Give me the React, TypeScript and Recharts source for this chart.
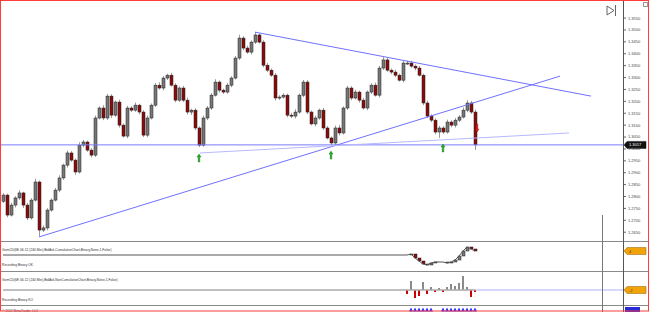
import React from 'react';
import { ComposedChart, Bar, Line, Scatter, XAxis, YAxis, ReferenceLine, Cell } from 'recharts';

// 6E 240 min closes, one per bar
const closes = [
  1.2806, 1.2722, 1.2764, 1.2794, 1.2815, 1.2764, 1.2710, 1.2785, 1.2861, 1.2659,
  1.2668, 1.2743, 1.2785, 1.2827, 1.2878, 1.2932, 1.2983, 1.2953, 1.2903, 1.3016,
  1.3029, 1.2995, 1.2974, 1.3130, 1.3172, 1.3130, 1.3222, 1.3142, 1.3197, 1.3100,
  1.3054, 1.3172, 1.3163, 1.3184, 1.3155, 1.3058, 1.3130, 1.3184, 1.3268, 1.3256,
  1.3298, 1.3310, 1.3268, 1.3205, 1.3256, 1.3205, 1.3155, 1.3163, 1.3088, 1.3016,
  1.3130, 1.3172, 1.3226, 1.3281, 1.3247, 1.3239, 1.3268, 1.3298, 1.3382, 1.3466,
  1.3424, 1.3407, 1.3449, 1.3479, 1.3449, 1.3352, 1.3331, 1.3310, 1.3214, 1.3218,
  1.3226, 1.3142, 1.3138, 1.3155, 1.3226, 1.3281, 1.3155, 1.3105, 1.3130, 1.3163,
  1.3088, 1.3046, 1.3025, 1.3088, 1.3067, 1.3172, 1.3256, 1.3214, 1.3239, 1.3205,
  1.3172, 1.3239, 1.3268, 1.3226, 1.3340, 1.3374, 1.3331, 1.3323, 1.3310, 1.3289,
  1.3361, 1.3361, 1.3348, 1.3340, 1.3310, 1.3193, 1.3138, 1.3121, 1.3071, 1.3088,
  1.3071, 1.3113, 1.3100, 1.3121, 1.3134, 1.3163, 1.3193, 1.3155, 1.3017,
];
const firstOpen = 1.2780;
// wick lengths in pips
const upperWicks = [
  8, 6, 10, 7, 12, 5, 9, 8, 14, 6,
  10, 8, 7, 9, 11, 6, 10, 8, 7, 12,
  9, 6, 8, 10, 7, 12, 9, 8, 6, 10,
  7, 9, 8, 11, 6, 8, 10, 7, 9, 12,
  8, 6, 10, 8, 7, 9, 11, 6, 8, 7,
  10, 8, 9, 12, 7, 6, 10, 8, 9, 14,
  8, 10, 7, 12, 6, 8, 10, 7, 9, 8,
  8, 6, 10, 12, 7, 9, 8, 6, 10, 7,
  9, 8, 6, 10, 12, 7, 9, 8, 10, 6,
  9, 7, 8, 11, 9, 12, 8, 7, 10, 6,
  9, 10, 8, 7, 9, 6, 10, 8, 7, 9,
  8, 10, 7, 9, 8, 11, 12, 8, 10,
];
const lowerWicks = [
  7, 9, 6, 10, 8, 12, 9, 7, 6, 27,
  8, 10, 7, 6, 9, 8, 10, 7, 12, 6,
  9, 7, 10, 8, 6, 9, 8, 12, 7, 10,
  6, 9, 8, 7, 10, 8, 9, 6, 8, 7,
  10, 8, 6, 9, 7, 8, 10, 12, 9, 8,
  7, 9, 8, 6, 10, 8, 7, 9, 6, 8,
  9, 7, 10, 8, 6, 9, 8, 7, 10, 8,
  6, 9, 8, 10, 7, 8, 9, 6, 10, 7,
  8, 6, 8, 9, 10, 7, 8, 9, 6, 10,
  7, 9, 8, 6, 10, 8, 7, 9, 8, 6,
  9, 8, 7, 10, 6, 9, 8, 9, 10, 25,
  8, 7, 9, 10, 8, 6, 9, 8, 21,
];
const priceTicks = [
  1.355, 1.35, 1.345, 1.34, 1.335, 1.33, 1.325, 1.32, 1.315, 1.31,
  1.305, 1.3, 1.295, 1.29, 1.285, 1.28, 1.275, 1.27, 1.265,
];

// drawing objects: [bar index, price]
const supportLine = [[9, 1.263], [139.25, 1.3306]];
const resistanceLine = [[63, 1.3491], [147, 1.3222]];
const channelLine = [[49.25, 1.2983], [141.5, 1.3067]];
const levelPrice = 1.3017;
const buySignals = [[49, 1.2962], [82, 1.2974], [110, 1.3004]];
const sellSignals = [[118.5, 1.3088]];

// GomCD recording starts at bar 101
const recordStart = 101;
const cumDelta = [0, 1, -3, -6, -9, -10, -8, -7, -7, -7, -8, -7, -5, -1, 4, 8, 6, 4];
const barDelta = [-4, 9, -8, -6, 8, -4, 3, -2, 2, -2, 3, 6, 4, 7, 14, 3, -7, -2];
const recordMarks = [102, 103, 104, 105, 106, 107, 110, 111, 112, 113, 114, 115, 116, 117, 118];

const X_DOMAIN: [number, number] = [-0.75, 155];
const W = 650;

const candles = closes.map((close, i) => {
  const open = i === 0 ? firstOpen : closes[i - 1];
  const high = Math.max(open, close) + upperWicks[i] / 10000;
  const low = Math.min(open, close) - lowerWicks[i] / 10000;
  return { i, open, close, high, low, range: [low, high] };
});

const cumRows = closes.map((_, i) => {
  const k = i - recordStart;
  const close = k >= 0 ? cumDelta[k] : 0;
  const open = k > 0 ? cumDelta[k - 1] : close;
  const high = Math.max(open, close);
  const low = Math.min(open, close);
  return { i, open, close, high, low, range: [low, high], cum: close };
});

const histRows = closes.map((_, i) => {
  const k = i - recordStart;
  return { i, delta: k >= 0 ? barDelta[k] : 0, zero: 0 };
});

const lastIndex = closes.length - 1;

function Candle(props: any) {
  const { x, y, width, height, payload } = props;
  if (!payload) return null;
  const span = payload.high - payload.low;
  if (!(span > 0)) return null;
  const top = Math.min(y, y + height);
  const h = Math.abs(height);
  const k = h / span;
  const yOpen = top + (payload.high - payload.open) * k;
  const yClose = top + (payload.high - payload.close) * k;
  const up = payload.close >= payload.open;
  const cx = Math.round(x + width / 2) + 0.5;
  const bodyTop = Math.min(yOpen, yClose);
  const bodyH = Math.max(1, Math.abs(yOpen - yClose));
  return (
    <g>
      <line x1={cx} x2={cx} y1={top} y2={top + h} stroke="#9a9a9a" strokeWidth={1} />
      <rect x={cx - 1.5} y={bodyTop} width={3} height={bodyH} fill={up ? '#777' : '#8b0a0a'} stroke="#222" strokeWidth={0.5} />
    </g>
  );
}

function UpArrow(props: any) {
  const { cx, cy } = props;
  return (
    <path
      d={`M${cx},${cy - 4} L${cx + 2},${cy - 1} L${cx + 0.8},${cy - 1} L${cx + 0.8},${cy + 4} L${cx - 0.8},${cy + 4} L${cx - 0.8},${cy - 1} L${cx - 2},${cy - 1} Z`}
      fill="#22b022"
      stroke="#0b6e0b"
      strokeWidth={0.4}
    />
  );
}

function DownArrow(props: any) {
  const { cx, cy } = props;
  return (
    <path
      d={`M${cx},${cy + 4} L${cx + 2},${cy + 1} L${cx + 0.8},${cy + 1} L${cx + 0.8},${cy - 4} L${cx - 0.8},${cy - 4} L${cx - 0.8},${cy + 1} L${cx - 2},${cy + 1} Z`}
      fill="#e02020"
      stroke="#8a0000"
      strokeWidth={0.4}
    />
  );
}

function MarkTriangle(props: any) {
  const { cx, cy } = props;
  return <path d={`M${cx - 2},${cy + 2} L${cx},${cy - 2} L${cx + 2},${cy + 2} Z`} fill="#2a2aff" />;
}

function tag(fill: string, stroke: string, text: string, textFill: string) {
  return (props: any) => {
    const vb = props.viewBox || {};
    const x = (vb.x || 0) + (vb.width || 0);
    const y = vb.y || 0;
    return (
      <g>
        <path
          d={`M${x + 1},${y} L${x + 4},${y - 3.5} L${x + 23},${y - 3.5} L${x + 23},${y + 3.5} L${x + 4},${y + 3.5} Z`}
          fill={fill}
          stroke={stroke}
          strokeWidth={0.5}
        />
        <text x={x + 6} y={y + 1.5} fontSize={4} fill={textFill} fontFamily="Liberation Sans">
          {text}
        </text>
      </g>
    );
  };
}

const seg = (line: number[][]) => [
  { x: line[0][0], y: line[0][1] },
  { x: line[1][0], y: line[1][1] },
];

export default function App() {
  const small = { fontSize: 3.3, fill: '#333', fontFamily: 'Liberation Sans' };
  return (
    <div style={{ position: 'absolute', left: 0, top: 0, width: W, height: 312, background: '#fff', overflow: 'hidden', fontFamily: 'Liberation Sans' }}>
      <div style={{ position: 'absolute', left: 0, top: 0 }}>
        <ComposedChart width={W} height={241} data={candles} margin={{ top: 0, right: 0, bottom: 0, left: 0 }}>
          <XAxis dataKey="i" type="number" domain={X_DOMAIN} allowDataOverflow hide />
          <YAxis
            orientation="right"
            width={27}
            type="number"
            domain={[1.2613, 1.3626]}
            allowDataOverflow
            ticks={priceTicks}
            interval={0}
            axisLine={false}
            tickSize={3}
            tickMargin={2}
            tickLine={{ stroke: '#666' }}
            tick={{ fontSize: 4, fill: '#444', fontFamily: 'Liberation Sans', textAnchor: 'start' }}
            tickFormatter={(v: number) => v.toFixed(4)}
          />
          <ReferenceLine y={levelPrice} stroke="#7a7aff" strokeWidth={1} label={tag('#111', '#111', levelPrice.toFixed(4), '#fff')} />
          <ReferenceLine segment={seg(supportLine)} stroke="#7070ff" strokeWidth={1} />
          <ReferenceLine segment={seg(resistanceLine)} stroke="#7070ff" strokeWidth={1} />
          <ReferenceLine segment={seg(channelLine)} stroke="#b8b8ff" strokeWidth={1} />
          <Bar dataKey="range" barSize={3} shape={<Candle />} isAnimationActive={false} />
          <Scatter data={buySignals.map(([i, p]) => ({ i, p }))} dataKey="p" shape={<UpArrow />} isAnimationActive={false} />
          <Scatter data={sellSignals.map(([i, p]) => ({ i, p }))} dataKey="p" shape={<DownArrow />} isAnimationActive={false} />
        </ComposedChart>
      </div>

      <div style={{ position: 'absolute', left: 0, top: 242 }}>
        <ComposedChart width={W} height={30} data={cumRows} margin={{ top: 0, right: 27, bottom: 0, left: 0 }}>
          <XAxis dataKey="i" type="number" domain={X_DOMAIN} allowDataOverflow hide />
          <YAxis type="number" domain={[-17, 13]} allowDataOverflow hide />
          <Line dataKey="cum" stroke="#555" strokeWidth={1} dot={false} isAnimationActive={false} />
          <Bar dataKey="range" barSize={3} shape={<Candle />} isAnimationActive={false} />
          <ReferenceLine y={cumDelta[cumDelta.length - 1]} stroke="none" label={tag('#f0a30a', '#9a6000', String(cumDelta[cumDelta.length - 1]), '#5a3a00')} />
        </ComposedChart>
      </div>

      <div style={{ position: 'absolute', left: 0, top: 272 }}>
        <ComposedChart width={W} height={34} data={histRows} margin={{ top: 0, right: 27, bottom: 0, left: 0 }}>
          <XAxis dataKey="i" type="number" domain={X_DOMAIN} allowDataOverflow hide />
          <YAxis type="number" domain={[-16, 18]} allowDataOverflow hide />
          <Line dataKey="zero" stroke="#aaa" strokeWidth={1.5} dot={false} isAnimationActive={false} />
          <ReferenceLine segment={[{ x: lastIndex, y: 0 }, { x: X_DOMAIN[1], y: 0 }]} stroke="#b0b0ff" strokeWidth={1} />
          <Bar dataKey="delta" barSize={2} isAnimationActive={false}>
            {histRows.map((r) => (
              <Cell key={r.i} fill={r.delta < 0 ? '#d00000' : '#8a8a8a'} />
            ))}
          </Bar>
          <ReferenceLine y={0} stroke="none" label={tag('#f0a30a', '#9a6000', String(barDelta[barDelta.length - 1]), '#5a3a00')} />
        </ComposedChart>
      </div>

      <div style={{ position: 'absolute', left: 0, top: 306 }}>
        <ComposedChart width={W} height={6} data={histRows} margin={{ top: 0, right: 27, bottom: 0, left: 0 }}>
          <XAxis dataKey="i" type="number" domain={X_DOMAIN} allowDataOverflow hide />
          <YAxis type="number" domain={[0, 1]} allowDataOverflow hide />
          <Scatter data={recordMarks.map((i) => ({ i, v: 0.4 }))} dataKey="v" shape={<MarkTriangle />} isAnimationActive={false} />
        </ComposedChart>
      </div>

      <svg width={W} height={312} style={{ position: 'absolute', left: 0, top: 0, pointerEvents: 'none' }}>
        <line x1={0} x2={649} y1={241.5} y2={241.5} stroke="#8a8a8a" />
        <line x1={0} x2={649} y1={271.5} y2={271.5} stroke="#8a8a8a" />
        <line x1={0} x2={649} y1={305.5} y2={305.5} stroke="#8a8a8a" />
        <line x1={623.5} x2={623.5} y1={0} y2={312} stroke="#555" />
        <line x1={602.5} x2={602.5} y1={215} y2={312} stroke="#777" />
        <path d="M607,6 L614,10.5 L607,15 Z" fill="none" stroke="#666" strokeWidth={1} />
        <line x1={615.5} x2={615.5} y1={5} y2={16} stroke="#666" />
        <rect x={643.5} y={2.5} width={4} height={4} fill="none" stroke="#999" />
        <rect x={625} y={307} width={15} height={5} fill="#2a2ad8" />
        <text x={2} y={251} {...small}>GomCD(6E 06-12 (240 Min),BidAsk,CumulativeChart,Binary,None,1,False)</text>
        <text x={2} y={265.5} {...small}>Recording Binary OK</text>
        <text x={2} y={280.5} {...small}>GomCD(6E 06-12 (240 Min),BidAsk,NonCumulativeChart,Binary,None,1,False)</text>
        <text x={2} y={300.5} {...small}>Recording Binary KO</text>
        <text x={2} y={311.5} {...small}>© 2012 NinjaTrader, LLC</text>
        <rect x={0.5} y={0.5} width={648} height={310.5} fill="none" stroke="#ff3b3b" />
      </svg>
    </div>
  );
}
